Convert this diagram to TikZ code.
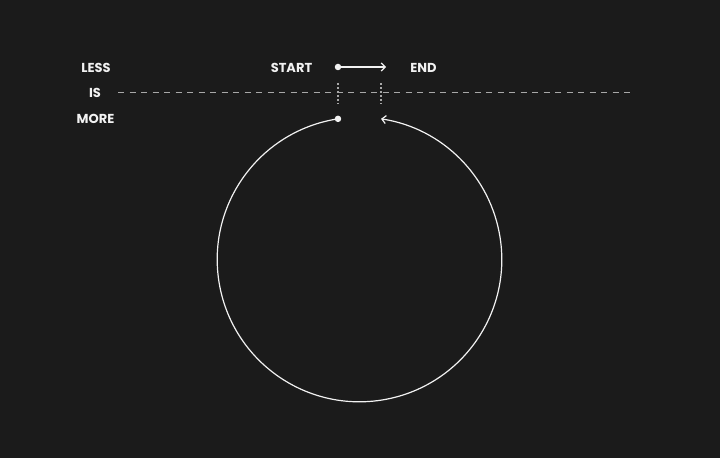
\documentclass[tikz,border=0pt]{standalone}
\usepackage{fontspec}
\setmainfont{Poppins}
\usetikzlibrary{arrows.meta,calc}
\definecolor{bg}{HTML}{1B1B1B}
\definecolor{fg}{HTML}{F2F2F2}
\definecolor{dashgrey}{HTML}{A8A8A8}
\begin{document}
\begin{tikzpicture}[x=1pt,y=1pt,
  lbl/.style={text=fg,font=\bfseries\fontsize{13}{15}\selectfont,inner sep=0pt,anchor=center},
  dotmark/.style={circle,fill=fg,inner sep=0pt,minimum size=6.5pt}]
\fill[bg] (0,0) rectangle (720,458);
\useasboundingbox (0,0) rectangle (720,458);
% texts
\node[lbl] (less) at (96,390.5) {LESS};
\node[lbl] (is) at (95,365.5) {IS};
\node[lbl] (more) at (95.5,339.5) {MORE};
\node[lbl] (start) at (291.5,390.5) {START};
\node[lbl] (end) at (423.5,390.5) {END};
% dashed line
\coordinate (dl) at (118,365.5);
\coordinate (dr) at (630,365.5);
\draw[dashgrey,line width=1.1pt,dash pattern=on 6pt off 5.5pt] (dl) -- (dr);
% dotted verticals
\coordinate (v1t) at (338,375);
\coordinate (v1b) at (338,354);
\coordinate (v2t) at (381,375);
\coordinate (v2b) at (381,354);
\draw[dashgrey,line width=1.1pt,dash pattern=on 2pt off 2pt] (v1t) -- (v1b);
\draw[dashgrey,line width=1.1pt,dash pattern=on 2pt off 2pt] (v2t) -- (v2b);
% top arrow
\node[dotmark] (sdot) at (338,391) {};
\coordinate (aend) at (386,391);
\draw[fg,line width=1.2pt,-{Straight Barb[length=4pt,width=8pt]}] (sdot.center) -- (aend);
% circle arc
\coordinate (cc) at (359.5,198.5);
\node[dotmark] (cdot) at ($(cc)+(98.7:142.3)$) {};
\draw[fg,line width=1.2pt,-{Straight Barb[length=4pt,width=8pt]}] (cdot.center) arc[start angle=98.7,end angle=441.3,radius=142.3];
\end{tikzpicture}
\end{document}
